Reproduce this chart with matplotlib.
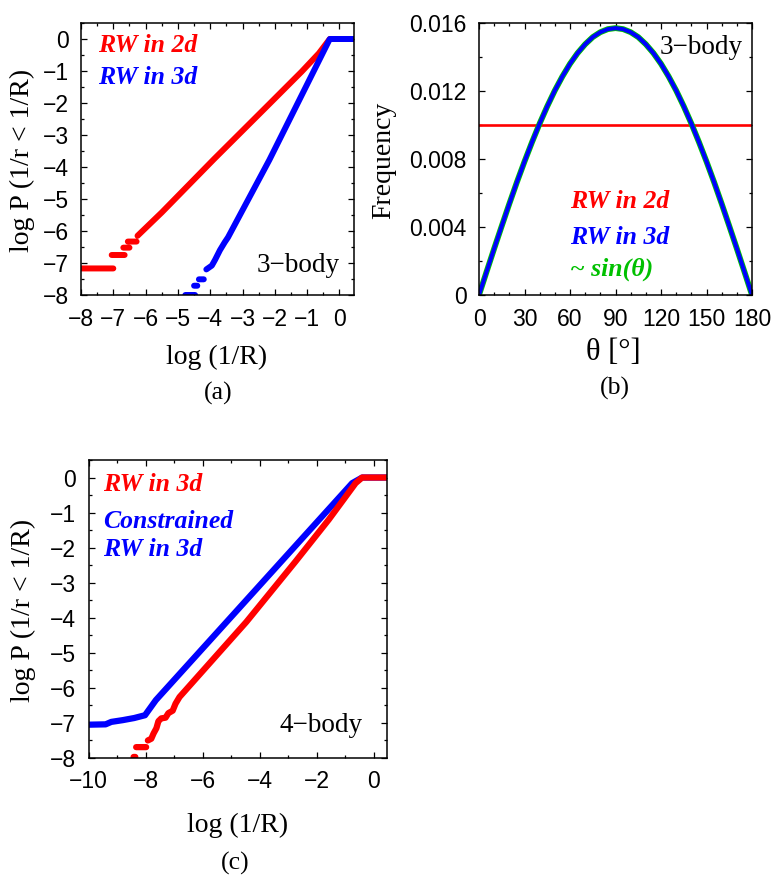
import matplotlib
matplotlib.use('Agg')
import matplotlib.pyplot as plt
import numpy as np
from matplotlib.ticker import MultipleLocator, FuncFormatter

nan = np.nan

# (a) 3-body, cumulative distribution of 1/r
a_red_x = [-8.0, -7.0, nan, -7.05, -6.65, nan, -6.69, -6.5, nan, -6.55, -6.28, nan,
           -6.25, -5.5, -3.88, -2.2, -1.17, -0.64, -0.3, 0.45]
a_red_y = [-7.17, -7.17, nan, -6.75, -6.75, nan, -6.52, -6.52, nan, -6.33, -6.33, nan,
           -6.15, -5.42, -3.75, -2.06, -1.02, -0.45, 0.0, 0.0]
a_blue_x = [-4.77, -4.47, nan, -4.5, -4.4, nan, -4.35, -4.2, nan,
            -4.12, -3.95, -3.85, -3.7, -3.55, -3.45, -2.17, -0.3, 0.45]
a_blue_y = [-8.0, -8.0, nan, -7.71, -7.71, nan, -7.51, -7.51, nan,
            -7.2, -7.08, -6.9, -6.6, -6.35, -6.2, -3.78, 0.0, 0.0]

# (b) 3-body, angle distribution
b_theta = [0, 5, 10, 15, 20, 25, 30, 35, 40, 45, 50, 55, 60, 65, 70, 75, 80, 85, 90,
           95, 100, 105, 110, 115, 120, 125, 130, 135, 140, 145, 150, 155, 160, 165, 170, 175, 180]
b_freq = [0, 0.00137, 0.00273, 0.00406, 0.00537, 0.00664, 0.00785, 0.00900, 0.01009,
          0.01110, 0.01203, 0.01286, 0.01360, 0.01423, 0.01475, 0.01517, 0.01546, 0.01564,
          0.01570, 0.01564, 0.01546, 0.01517, 0.01475, 0.01423, 0.01360, 0.01286, 0.01203,
          0.01110, 0.01009, 0.00900, 0.00785, 0.00664, 0.00537, 0.00406, 0.00273, 0.00137, 0]
b_flat_theta = [0, 180]
b_flat = [0.01, 0.01]

# (c) 4-body
c_red_x = [-8.42, -8.36, nan, -8.33, -7.98, nan,
           -7.92, -7.8, -7.72, -7.62, -7.55, -7.45, -7.3, -7.2, -7.05, -6.95, -6.81,
           -4.47, -2.75, -1.58, -0.64, -0.41, 0.46]
c_red_y = [-7.97, -7.97, nan, -7.69, -7.69, nan,
           -7.5, -7.45, -7.3, -7.15, -6.95, -6.87, -6.85, -6.72, -6.65, -6.45, -6.26,
           -4.12, -2.4, -1.2, -0.16, 0.0, 0.0]
c_blue_x = [-10, -9.4, -9.2, -8.8, -8.4, -8.02, -7.64, -0.76, -0.41, 0.46]
c_blue_y = [-7.05, -7.04, -6.97, -6.92, -6.86, -6.78, -6.35, -0.16, 0.0, 0.0]

W, H = 780, 886
RED, BLUE, GREEN = '#ff0000', '#0000ff', '#00c000'
SANS = 'Liberation Sans'
SERIF = 'Liberation Serif'

fig = plt.figure(figsize=(W / 100, H / 100), dpi=100)


def box(l, t, r, b):
    return [l / W, 1 - b / H, (r - l) / W, (b - t) / H]


def txt(x, y, s, **kw):
    kw.setdefault('family', SERIF)
    kw.setdefault('fontsize', 19.5)
    fig.text(x / W, 1 - y / H, s, **kw)


def setup(ax, xlim, ylim, xmaj, xmin, ymaj, ymin):
    ax.set_xlim(xlim)
    ax.set_ylim(ylim)
    ax.xaxis.set_major_locator(MultipleLocator(xmaj))
    ax.xaxis.set_minor_locator(MultipleLocator(xmin))
    ax.yaxis.set_major_locator(MultipleLocator(ymaj))
    ax.yaxis.set_minor_locator(MultipleLocator(ymin))
    ax.tick_params(which='both', direction='in', top=True, right=True, width=0.9)
    ax.tick_params(which='major', length=4.5, labelsize=16.5)
    ax.tick_params(which='minor', length=2.5)
    ax.tick_params(axis='x', pad=9)
    ax.tick_params(axis='y', pad=9)
    for lab in ax.get_xticklabels() + ax.get_yticklabels():
        lab.set_family(SANS)
    for sp in ax.spines.values():
        sp.set_linewidth(1.1)


# panel (a)
ax1 = fig.add_axes(box(81, 23, 354, 295))
ax1.plot(a_red_x, a_red_y, color=RED, lw=4.3, solid_capstyle='round')
ax1.plot(a_blue_x, a_blue_y, color=BLUE, lw=4.3, solid_capstyle='round')
setup(ax1, (-8, 0.45), (-8, 0.5), 1, 0.5, 1, 0.5)

# panel (b)
ax2 = fig.add_axes(box(479, 23, 752, 295))
ax2.plot(b_flat_theta, b_flat, color=RED, lw=1.9)
ax2.plot(b_theta, b_freq, color=GREEN, lw=4.2)
ax2.plot(b_theta, b_freq, color=BLUE, lw=2.9)
setup(ax2, (0, 180), (0, 0.016), 30, 10, 0.004, 0.002)
ax2.yaxis.set_major_formatter(FuncFormatter(lambda v, _: '0' if abs(v) < 1e-9 else '%.3f' % v))
for lab in ax2.get_xticklabels() + ax2.get_yticklabels():
    lab.set_family(SANS)

# panel (c)
ax3 = fig.add_axes(box(88.5, 460, 387, 758))
ax3.plot(c_blue_x, c_blue_y, color=BLUE, lw=4.5, solid_capstyle='round')
ax3.plot(c_red_x, c_red_y, color=RED, lw=4.5, solid_capstyle='round')
setup(ax3, (-10, 0.46), (-8, 0.5), 2, 1, 1, 0.5)

leg = dict(fontweight='bold', fontstyle='italic', va='center', ha='left', fontsize=18.5)

# texts of (a)
txt(98, 46, 'RW in 2d', color=RED, **leg)
txt(98, 78, 'RW in 3d', color=BLUE, **leg)
txt(340, 265, '3\u2212body', ha='right', va='center')
txt(22, 160, 'log P (1/r < 1/R)', rotation=90, ha='center', va='center', fontsize=20)
txt(217, 357, 'log (1/R)', ha='center', va='center', fontsize=20)
txt(218, 393, '(a)', ha='center', va='center', fontsize=18.5)

# texts of (b)
txt(743, 47, '3\u2212body', ha='right', va='center')
txt(570, 202, 'RW in 2d', color=RED, **leg)
txt(570, 237, 'RW in 3d', color=BLUE, **leg)
txt(570, 269, '~ sin(\u03b8)', color=GREEN, **leg)
txt(384, 160, 'Frequency', rotation=90, ha='center', va='center', fontsize=20)
txt(613, 353, '\u03b8 [\u00b0]', ha='center', va='center', fontsize=22)
txt(615, 388, '(b)', ha='center', va='center', fontsize=18.5)

# texts of (c)
txt(103, 485, 'RW in 3d', color=RED, **leg)
txt(103, 521, 'Constrained', color=BLUE, **leg)
txt(103, 549, 'RW in 3d', color=BLUE, **leg)
txt(363, 725, '4\u2212body', ha='right', va='center')
txt(23, 610, 'log P (1/r < 1/R)', rotation=90, ha='center', va='center', fontsize=20)
txt(238, 825, 'log (1/R)', ha='center', va='center', fontsize=20)
txt(235, 863, '(c)', ha='center', va='center', fontsize=18.5)

fig.savefig('out.png', dpi=100)
